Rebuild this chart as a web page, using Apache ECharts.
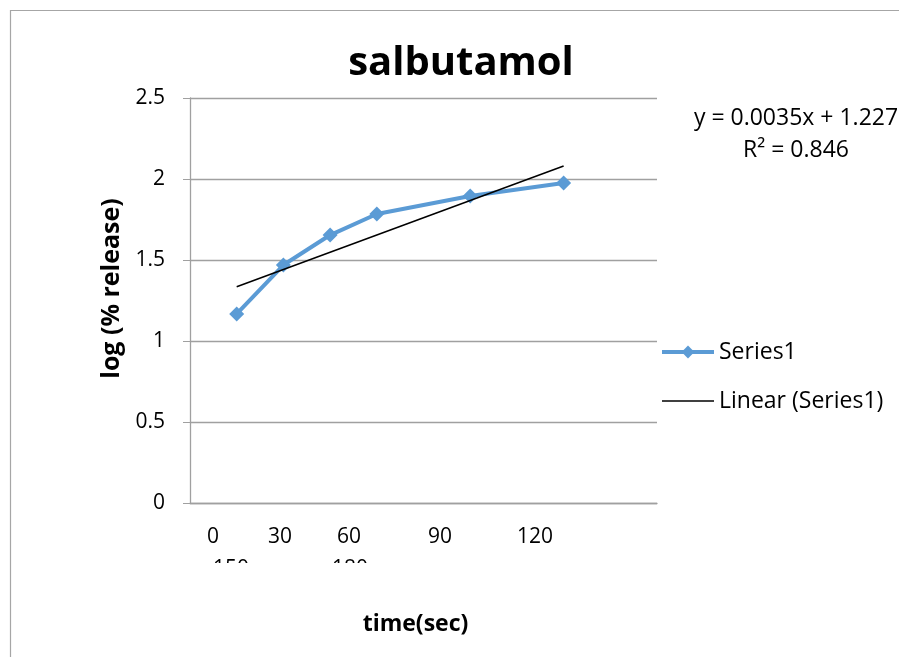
<!DOCTYPE html>
<html>
<head>
<meta charset="utf-8">
<script src="https://cdn.jsdelivr.net/npm/echarts@6/dist/echarts.min.js"></script>
<style>
  html, body { margin: 0; padding: 0; background: #fff; }
  #chart { width: 899px; height: 657px; }
</style>
</head>
<body>
<div id="chart"></div>
<script>
  // release data, time in sec
  var timeSec = [30, 60, 90, 120, 180, 240];
  var logRelease = [1.167, 1.469, 1.654, 1.784, 1.895, 1.975];
  // trendline ends
  var trendX = [30, 240];
  var trendY = [1.335, 2.08];
  var yTicks = [0, 0.5, 1, 1.5, 2, 2.5];
  var xTickLabels = ['0', '30', '60', '90', '120'];
  var hiddenLabels = ['150', '180'];
  var equation = ['y = 0.0035x + 1.227', 'R\u00b2 = 0.846'];

  var FONT = '"Open Sans", sans-serif';
  var xLabelPos = [213, 280, 349, 440, 535];
  var hiddenPos = [231, 350];

  var seriesData = timeSec.map(function (t, i) { return [t, logRelease[i]]; });
  var trendData = trendX.map(function (t, i) { return [t, trendY[i]]; });

  var graphics = [
    {
      type: 'rect', left: 8, top: 8, silent: true,
      shape: { width: 1000, height: 1000 },
      style: { fill: 'none', stroke: '#a6a6a6', lineWidth: 1.2 }
    }
  ];
  xTickLabels.forEach(function (t, i) {
    graphics.push({
      type: 'text', x: xLabelPos[i], y: 537,
      style: { text: t, font: '21px ' + FONT, fill: '#000', textAlign: 'center', textVerticalAlign: 'middle' }
    });
  });
  hiddenLabels.forEach(function (t, i) {
    graphics.push({
      type: 'text', x: hiddenPos[i], y: 569, z: 1,
      style: { text: t, font: '21px ' + FONT, fill: '#000', textAlign: 'center', textVerticalAlign: 'middle' }
    });
  });
  // white box that cuts the lower labels
  graphics.push({
    type: 'rect', x: 190, y: 563, z: 2,
    shape: { width: 300, height: 40 },
    style: { fill: '#fff' }
  });
  graphics.push({
    type: 'text', x: 796, y: 118,
    style: { text: equation[0], font: '23px ' + FONT, fill: '#000', textAlign: 'center', textVerticalAlign: 'middle' }
  });
  graphics.push({
    type: 'text', x: 796, y: 150,
    style: { text: equation[1], font: '23px ' + FONT, fill: '#000', textAlign: 'center', textVerticalAlign: 'middle' }
  });

  var myChart = echarts.init(document.getElementById('chart'));
  myChart.setOption({
    animation: false,
    backgroundColor: '#fff',
    title: {
      text: 'salbutamol',
      left: 456,
      textAlign: 'center',
      top: 39,
      textStyle: { fontFamily: FONT, fontSize: 40, fontWeight: 'bold', color: '#000' }
    },
    legend: {
      orient: 'vertical',
      left: 660,
      top: 339,
      padding: 0,
      itemWidth: 52,
      itemHeight: 16,
      itemGap: 23,
      textStyle: { fontFamily: FONT, fontSize: 23, color: '#000', lineHeight: 26 },
      data: [
        { name: 'Series1', lineStyle: { width: 4 } },
        { name: 'Linear (Series1)', itemStyle: { opacity: 0 }, lineStyle: { width: 1.5 } }
      ]
    },
    grid: { left: 190, right: 242, top: 98, bottom: 154 },
    xAxis: {
      type: 'value',
      min: 0,
      max: 300,
      name: 'time(sec)',
      nameLocation: 'middle',
      nameGap: 110,
      nameTextStyle: { fontFamily: FONT, fontSize: 23, fontWeight: 'bold', color: '#000', padding: [0, 0, 0, -16] },
      axisLine: { show: true, lineStyle: { color: '#a0a0a0', width: 1.3 } },
      axisTick: { show: false },
      axisLabel: { show: false },
      splitLine: { show: false }
    },
    yAxis: {
      type: 'value',
      min: yTicks[0],
      max: yTicks[yTicks.length - 1],
      interval: 0.5,
      name: 'log (% release)',
      nameLocation: 'middle',
      nameRotate: 90,
      nameGap: 66,
      nameTextStyle: { fontFamily: FONT, fontSize: 25, fontWeight: 'bold', color: '#000', padding: [0, 0, 0, 24] },
      axisLine: { show: true, lineStyle: { color: '#a0a0a0', width: 1.3 } },
      axisTick: { show: true, inside: false, length: 7, lineStyle: { color: '#a0a0a0' } },
      axisLabel: { margin: 25, fontFamily: FONT, fontSize: 21, color: '#000' },
      splitLine: { show: true, lineStyle: { color: '#a0a0a0', width: 1.3 } }
    },
    graphic: graphics,
    series: [
      {
        name: 'Series1',
        type: 'line',
        data: seriesData,
        symbol: 'diamond',
        symbolSize: 15,
        color: '#5b9bd5',
        lineStyle: { color: '#5b9bd5', width: 4 },
        itemStyle: { color: '#5b9bd5' },
        z: 3
      },
      {
        name: 'Linear (Series1)',
        type: 'line',
        data: trendData,
        symbol: 'none',
        color: '#000',
        lineStyle: { color: '#000', width: 1.5 },
        z: 4
      }
    ]
  });
</script>
</body>
</html>
